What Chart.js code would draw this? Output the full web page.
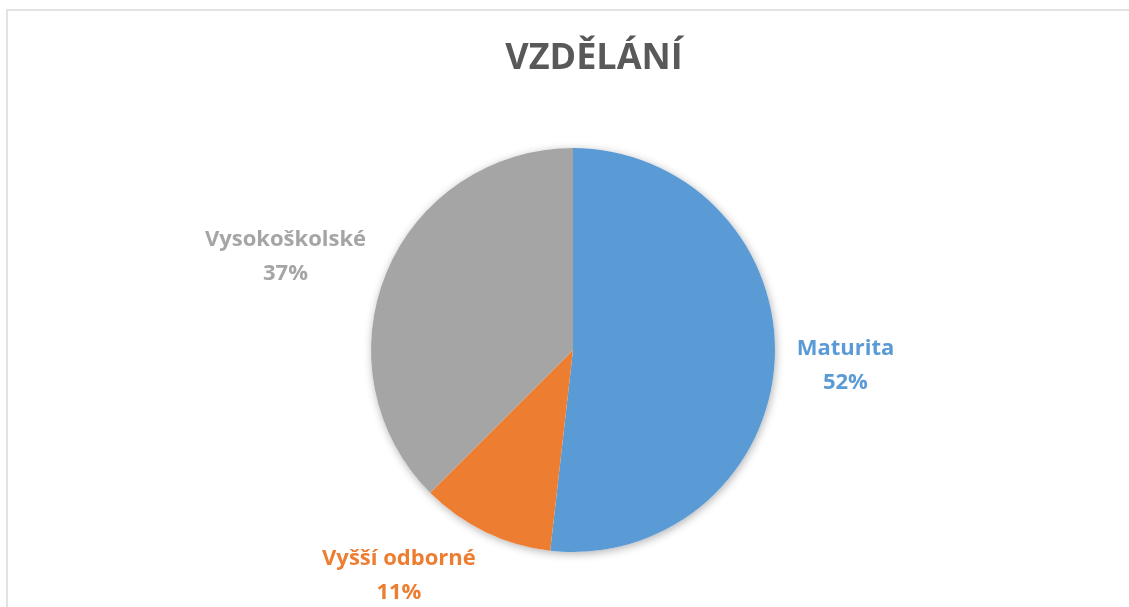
<!DOCTYPE html>
<html lang="cs">
<head>
<meta charset="utf-8">
<title>Vzdělání</title>
<script src="https://cdn.jsdelivr.net/npm/chart.js@4/dist/chart.umd.min.js"></script>
<style>
    html, body { margin: 0; padding: 0; background: #ffffff; overflow: hidden; }
    #frame {
        position: absolute; left: 6px; top: 9px; width: 1300px; height: 800px;
        border: 2px solid #e2e2e2; box-sizing: border-box;
    }
    #chartVzdelani { position: absolute; left: 0; top: 0; }
</style>
</head>
<body>
<div id="frame"></div>
<canvas id="chartVzdelani" width="1129" height="607"></canvas>
<script>
// Datos del gráfico
const chartTitle = 'VZDĚLÁNÍ';
const categories = ['Maturita', 'Vyšší odborné', 'Vysokoškolské'];
const shares = [51.8, 10.7, 37.5];
const percentLabels = ['52%', '11%', '37%'];
const sliceColors = ['#5B9BD5', '#ED7D31', '#A5A5A5'];

const FONT = '"Open Sans", "DejaVu Sans", sans-serif';

// Sombra suave debajo del pastel
const pieShadowPlugin = {
    id: 'pieShadow',
    beforeDatasetsDraw(chart) {
        const arc = chart.getDatasetMeta(0).data[0];
        if (!arc) return;
        const ctx = chart.ctx;
        ctx.save();
        ctx.shadowColor = 'rgba(0,0,0,0.30)';
        ctx.shadowBlur = 9;
        ctx.shadowOffsetX = 1;
        ctx.shadowOffsetY = 2;
        ctx.fillStyle = '#ffffff';
        ctx.beginPath();
        ctx.arc(arc.x, arc.y, arc.outerRadius, 0, Math.PI * 2);
        ctx.fill();
        ctx.restore();
    }
};

// Título y etiquetas de datos
const pieLabelsPlugin = {
    id: 'pieLabels',
    afterDraw(chart) {
        const ctx = chart.ctx;
        const meta = chart.getDatasetMeta(0);

        ctx.save();
        ctx.fillStyle = '#595959';
        ctx.font = 'bold 36px ' + FONT;
        ctx.textAlign = 'center';
        ctx.textBaseline = 'alphabetic';
        ctx.fillText(chartTitle, 594, 69);

        ctx.font = 'bold 22px ' + FONT;
        meta.data.forEach((arc, i) => {
            const mid = (arc.startAngle + arc.endAngle) / 2;
            const cos = Math.cos(mid);
            const sin = Math.sin(mid);
            const d = arc.outerRadius + 22;
            const ax = arc.x + cos * d;
            const ay = arc.y + sin * d;

            const lines = [categories[i], percentLabels[i]];
            const w = Math.max(...lines.map(l => ctx.measureText(l).width));
            const h = 50;
            const cx = cos >= 0 ? ax + w / 2 : ax - w / 2;
            const cy = ay + sin * h / 2;

            ctx.fillStyle = sliceColors[i];
            ctx.textAlign = 'center';
            ctx.fillText(lines[0], cx, cy - h / 2 + 16);
            ctx.fillText(lines[1], cx, cy - h / 2 + 50);
        });
        ctx.restore();
    }
};

new Chart(document.getElementById('chartVzdelani').getContext('2d'), {
    type: 'pie',
    data: {
        labels: categories,
        datasets: [{
            data: shares,
            backgroundColor: sliceColors,
            borderWidth: 0,
            hoverOffset: 0
        }]
    },
    options: {
        responsive: false,
        animation: false,
        layout: {
            padding: { top: 148, bottom: 55, left: 200, right: 183 }
        },
        plugins: {
            legend: { display: false },
            title: { display: false },
            tooltip: { enabled: false }
        }
    },
    plugins: [pieShadowPlugin, pieLabelsPlugin]
});
</script>
</body>
</html>
